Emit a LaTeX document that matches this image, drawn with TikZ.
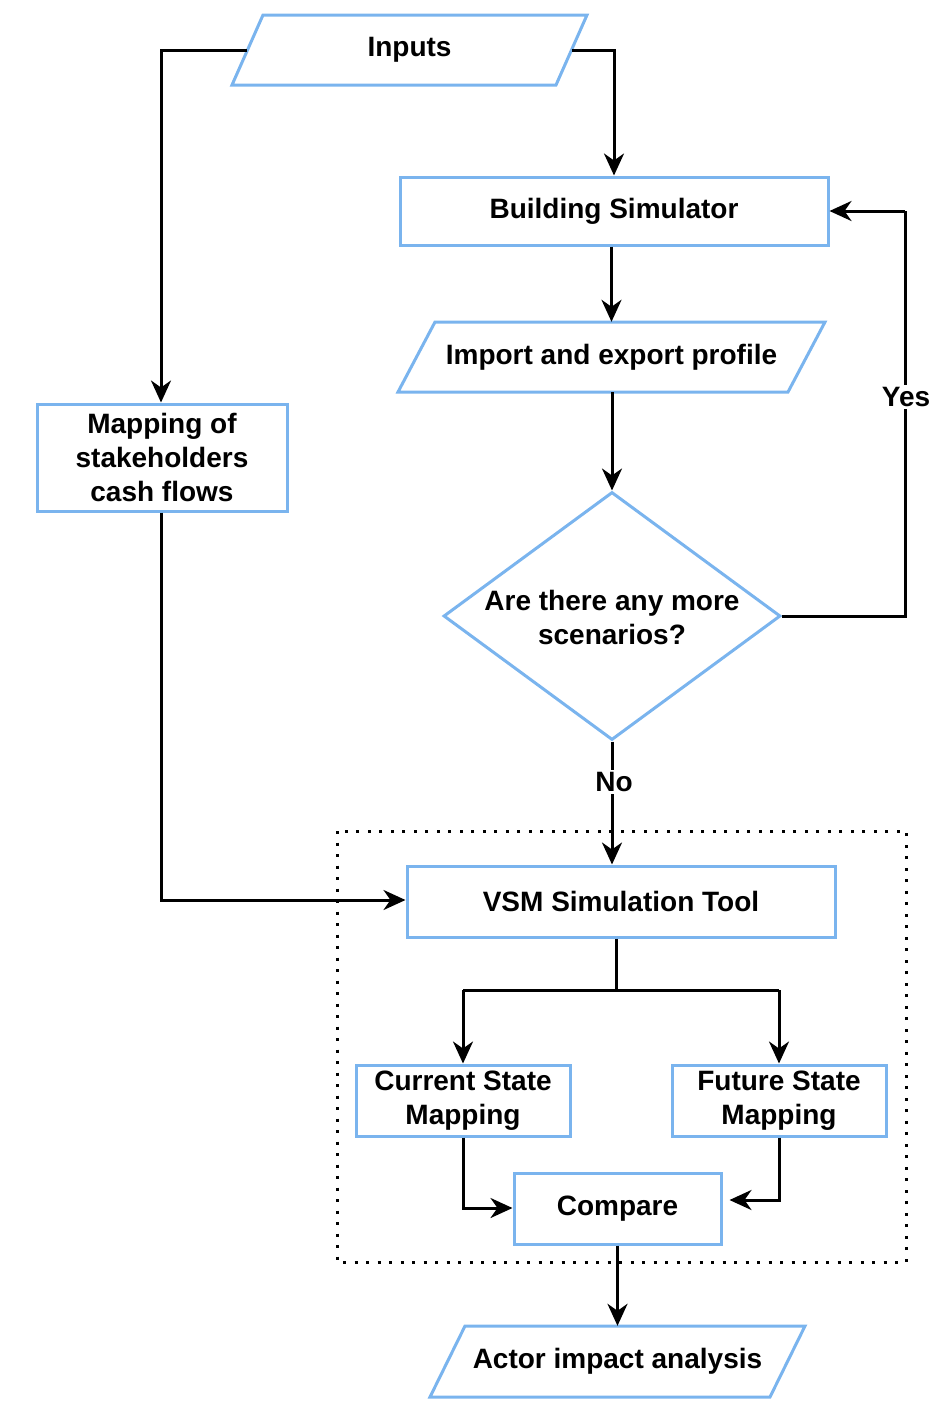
\documentclass[tikz,border=0pt]{standalone}
\usepackage{fontspec}
\setmainfont{Liberation Sans}
\usetikzlibrary{shapes.geometric,arrows.meta,calc}
\definecolor{boxblue}{RGB}{122,180,238}
\tikzset{
  box/.style={draw=boxblue, line width=3pt, fill=white, inner sep=0pt, align=center},
  ghost/.style={draw=none, inner sep=0pt, align=center},
  conn/.style={draw=black, line width=3pt, -{Stealth[length=22pt,width=20pt,inset=7pt]}},
  plain/.style={draw=black, line width=3pt},
  para/.style={draw=boxblue, line width=3pt, line join=miter, fill=white},
  lbl/.style={fill=white, inner sep=2pt},
}
\begin{document}
\begin{tikzpicture}[x=1pt, y=-1pt, font=\fontsize{28}{34}\selectfont\bfseries]
\useasboundingbox (0,0) rectangle (952,1414);

% dotted group frame
\draw[line width=3pt, dash pattern=on 3pt off 8.5pt] (337,831) rectangle (906,1262);

% parallelograms (drawn), with ghost nodes for names
\draw[para] (232,85) -- (263,15) -- (587,15) -- (556,85) -- cycle;
\node[ghost, minimum width=324pt, minimum height=70pt] (inputs) at (409.5,50) {Inputs};

\draw[para] (398,392) -- (435,322) -- (825,322) -- (788,392) -- cycle;
\node[ghost, minimum width=390pt, minimum height=70pt] (imp) at (611.5,357) {Import and export profile};

\draw[para] (430,1397) -- (465,1326) -- (805,1326) -- (770,1397) -- cycle;
\node[ghost, minimum width=340pt, minimum height=71pt] (actor) at (617.5,1361.5) {Actor impact analysis};

% rectangles
\node[box, minimum width=428pt, minimum height=68pt] (bsim) at (614,211) {Building Simulator};
\node[box, minimum width=250pt, minimum height=107pt] (map) at (162,457.5) {Mapping of\\stakeholders\\cash flows};
\node[box, diamond, minimum width=337pt, minimum height=248pt] (dec) at (612,616) {};
\node[ghost] (dectxt) at (612,617) {Are there any more\\scenarios?};
\node[box, minimum width=428pt, minimum height=71pt] (vsm) at (621,901.5) {VSM Simulation Tool};
\node[box, minimum width=214pt, minimum height=71pt] (cur) at (463,1100.5) {Current State\\Mapping};
\node[box, minimum width=214pt, minimum height=71pt] (fut) at (779,1100.5) {Future State\\Mapping};
\node[box, minimum width=207pt, minimum height=71pt] (cmp) at (617.5,1208.5) {Compare};

% connector coordinates
\coordinate (c1) at (161,50);
\coordinate (c2) at (614,50);
\coordinate (c4) at (905,211);
\coordinate (c5) at (161,900);
\coordinate (c6) at (616,990);
\coordinate (c7) at (463,990);
\coordinate (c8) at (779,990);
\coordinate (c9) at (463,1208);
\coordinate (c10) at (779,1200);

% connectors
\draw[conn] (inputs.west) -- (c1) -- (map.north -| c1);
\draw[conn] (inputs.east) -- (c2) -- (bsim.north -| c2);
\draw[conn] (bsim.south -| imp.north) -- (imp.north);
\draw[conn] (imp.south -| dec.north) -- (dec.north);
\draw[plain] (dec.east) -- (dec.east -| c4) -- (c4);
\draw[conn] (c4) -- (bsim.east);
\node[lbl] (yes) at (906,397) {Yes};
\draw[conn] (dec.south) -- (dec.south |- vsm.north);
\node[lbl] (no) at (614,782) {No};
\draw[conn] (map.south -| c5) -- (c5) -- (vsm.west |- c5);
\draw[plain] (vsm.south -| c6) -- (c6);
\draw[conn] (c7) -- (cur.north);
\draw[conn] (c8) -- (fut.north);
\draw[plain] (c7) -- (c8);
\draw[conn] (cur.south) -- (c9) -- (cmp.west |- c9);
\draw[conn, shorten >=7pt] (fut.south) -- (c10) -- (cmp.east |- c10);
\draw[conn] (cmp.south) -- (actor.north);
\end{tikzpicture}
\end{document}
